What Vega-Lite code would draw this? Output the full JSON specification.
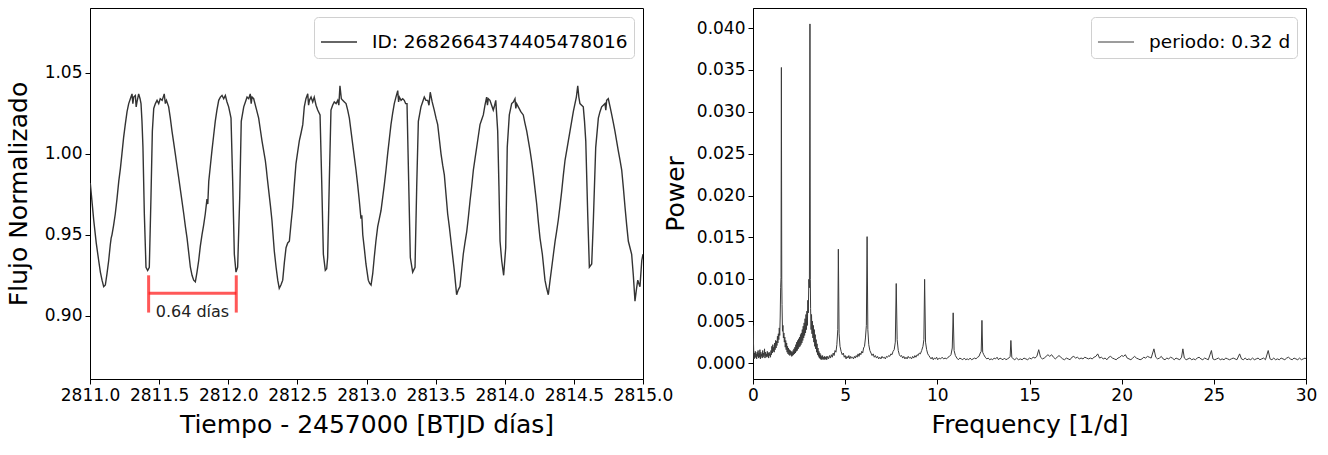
{
"$schema": "https://vega.github.io/schema/vega-lite/v6.json",
"padding": {"left": 5, "top": 7, "right": 13, "bottom": 5},
"background": "white",
"spacing": 110,
"bounds": "flush",
"resolve": {"scale": {"color": "independent"}, "legend": {"color": "independent"}},
"config": {
  "font": "DejaVu Sans",
  "view": {"stroke": "black", "strokeWidth": 1},
  "axis": {"grid": false, "domainColor": "black", "domainWidth": 1, "tickColor": "black", "tickSize": 5, "tickWidth": 1, "labelFontSize": 17, "labelColor": "black", "labelPadding": 3, "titleFontSize": 25, "titleFontWeight": "normal", "titleColor": "black", "labelFlush": false, "labelOverlap": false},
  "legend": {"title": null, "orient": "top-right", "offset": 9, "symbolType": "stroke", "labelFontSize": 18.5, "labelLimit": 500, "labelColor": "black", "strokeColor": "#d0d0d0", "fillColor": "white", "padding": 6, "cornerRadius": 4, "labelOffset": 14, "symbolSize": 1300}
},
"datasets": {
"lc": [
{"t":2811.002,"f":0.982},{"t":2811.015,"f":0.970},{"t":2811.027,"f":0.959},{"t":2811.045,"f":0.945},{"t":2811.063,"f":0.934},{"t":2811.075,"f":0.927},{"t":2811.087,"f":0.922},{"t":2811.099,"f":0.918},{"t":2811.111,"f":0.919},{"t":2811.123,"f":0.926},{"t":2811.135,"f":0.934},{"t":2811.147,"f":0.944},{"t":2811.153,"f":0.948},{"t":2811.159,"f":0.950},{"t":2811.171,"f":0.956},{"t":2811.183,"f":0.963},{"t":2811.195,"f":0.972},{"t":2811.208,"f":0.983},{"t":2811.220,"f":0.991},{"t":2811.231,"f":1.000},{"t":2811.243,"f":1.010},{"t":2811.255,"f":1.018},{"t":2811.268,"f":1.026},{"t":2811.280,"f":1.031},{"t":2811.292,"f":1.034},{"t":2811.304,"f":1.037},{"t":2811.310,"f":1.031},{"t":2811.316,"f":1.035},{"t":2811.328,"f":1.036},{"t":2811.334,"f":1.029},{"t":2811.340,"f":1.032},{"t":2811.352,"f":1.037},{"t":2811.362,"f":1.034},{"t":2811.369,"f":1.031},{"t":2811.376,"f":1.020},{"t":2811.383,"f":1.004},{"t":2811.393,"f":0.963},{"t":2811.405,"f":0.930},{"t":2811.417,"f":0.928},{"t":2811.429,"f":0.930},{"t":2811.441,"f":0.973},{"t":2811.451,"f":1.014},{"t":2811.461,"f":1.028},{"t":2811.473,"f":1.031},{"t":2811.485,"f":1.033},{"t":2811.497,"f":1.031},{"t":2811.508,"f":1.034},{"t":2811.522,"f":1.033},{"t":2811.537,"f":1.037},{"t":2811.545,"f":1.031},{"t":2811.553,"f":1.033},{"t":2811.569,"f":1.029},{"t":2811.581,"f":1.022},{"t":2811.593,"f":1.014},{"t":2811.605,"f":1.007},{"t":2811.617,"f":1.000},{"t":2811.630,"f":0.992},{"t":2811.642,"f":0.985},{"t":2811.660,"f":0.974},{"t":2811.678,"f":0.963},{"t":2811.690,"f":0.955},{"t":2811.702,"f":0.948},{"t":2811.714,"f":0.939},{"t":2811.726,"f":0.930},{"t":2811.738,"f":0.925},{"t":2811.750,"f":0.922},{"t":2811.762,"f":0.921},{"t":2811.774,"f":0.927},{"t":2811.786,"f":0.934},{"t":2811.798,"f":0.943},{"t":2811.810,"f":0.950},{"t":2811.822,"f":0.956},{"t":2811.834,"f":0.963},{"t":2811.846,"f":0.972},{"t":2811.852,"f":0.969},{"t":2811.859,"f":0.983},{"t":2811.870,"f":0.992},{"t":2811.882,"f":1.002},{"t":2811.894,"f":1.011},{"t":2811.906,"f":1.020},{"t":2811.918,"f":1.027},{"t":2811.931,"f":1.033},{"t":2811.943,"f":1.035},{"t":2811.955,"f":1.036},{"t":2811.967,"f":1.034},{"t":2811.979,"f":1.036},{"t":2811.991,"f":1.032},{"t":2812.003,"f":1.029},{"t":2812.013,"f":1.025},{"t":2812.020,"f":1.022},{"t":2812.032,"f":0.983},{"t":2812.044,"f":0.938},{"t":2812.056,"f":0.927},{"t":2812.068,"f":0.930},{"t":2812.083,"f":0.973},{"t":2812.094,"f":1.020},{"t":2812.112,"f":1.029},{"t":2812.124,"f":1.032},{"t":2812.136,"f":1.035},{"t":2812.148,"f":1.034},{"t":2812.159,"f":1.037},{"t":2812.166,"f":1.031},{"t":2812.172,"f":1.035},{"t":2812.184,"f":1.034},{"t":2812.202,"f":1.028},{"t":2812.220,"f":1.022},{"t":2812.232,"f":1.015},{"t":2812.244,"f":1.008},{"t":2812.256,"f":1.002},{"t":2812.268,"f":0.996},{"t":2812.275,"f":0.991},{"t":2812.281,"f":0.986},{"t":2812.293,"f":0.977},{"t":2812.305,"f":0.968},{"t":2812.316,"f":0.959},{"t":2812.333,"f":0.940},{"t":2812.346,"f":0.930},{"t":2812.358,"f":0.922},{"t":2812.369,"f":0.917},{"t":2812.381,"f":0.919},{"t":2812.394,"f":0.922},{"t":2812.406,"f":0.933},{"t":2812.418,"f":0.942},{"t":2812.430,"f":0.945},{"t":2812.442,"f":0.946},{"t":2812.454,"f":0.957},{"t":2812.466,"f":0.967},{"t":2812.478,"f":0.981},{"t":2812.490,"f":0.994},{"t":2812.502,"f":1.001},{"t":2812.514,"f":1.008},{"t":2812.527,"f":1.013},{"t":2812.539,"f":1.018},{"t":2812.550,"f":1.029},{"t":2812.562,"f":1.034},{"t":2812.575,"f":1.037},{"t":2812.581,"f":1.030},{"t":2812.587,"f":1.033},{"t":2812.599,"f":1.035},{"t":2812.611,"f":1.032},{"t":2812.622,"f":1.035},{"t":2812.635,"f":1.030},{"t":2812.647,"f":1.027},{"t":2812.664,"f":1.024},{"t":2812.676,"f":0.983},{"t":2812.688,"f":0.938},{"t":2812.702,"f":0.928},{"t":2812.712,"f":0.929},{"t":2812.719,"f":0.936},{"t":2812.731,"f":0.983},{"t":2812.743,"f":1.027},{"t":2812.755,"f":1.030},{"t":2812.767,"f":1.032},{"t":2812.780,"f":1.031},{"t":2812.792,"f":1.033},{"t":2812.800,"f":1.030},{"t":2812.808,"f":1.042},{"t":2812.818,"f":1.034},{"t":2812.828,"f":1.033},{"t":2812.840,"f":1.032},{"t":2812.852,"f":1.031},{"t":2812.864,"f":1.027},{"t":2812.876,"f":1.022},{"t":2812.888,"f":1.014},{"t":2812.900,"f":1.006},{"t":2812.912,"f":0.998},{"t":2812.924,"f":0.990},{"t":2812.936,"f":0.981},{"t":2812.948,"f":0.971},{"t":2812.960,"f":0.960},{"t":2812.966,"f":0.962},{"t":2812.973,"f":0.950},{"t":2812.985,"f":0.941},{"t":2812.996,"f":0.932},{"t":2813.013,"f":0.922},{"t":2813.023,"f":0.920},{"t":2813.033,"f":0.919},{"t":2813.045,"f":0.926},{"t":2813.056,"f":0.936},{"t":2813.068,"f":0.946},{"t":2813.081,"f":0.955},{"t":2813.093,"f":0.960},{"t":2813.105,"f":0.965},{"t":2813.117,"f":0.973},{"t":2813.129,"f":0.981},{"t":2813.141,"f":0.990},{"t":2813.153,"f":1.000},{"t":2813.165,"f":1.009},{"t":2813.177,"f":1.018},{"t":2813.189,"f":1.025},{"t":2813.201,"f":1.031},{"t":2813.213,"f":1.035},{"t":2813.226,"f":1.039},{"t":2813.232,"f":1.032},{"t":2813.238,"f":1.035},{"t":2813.250,"f":1.033},{"t":2813.262,"f":1.034},{"t":2813.273,"f":1.033},{"t":2813.283,"f":1.031},{"t":2813.293,"f":1.031},{"t":2813.305,"f":0.983},{"t":2813.317,"f":0.936},{"t":2813.334,"f":0.927},{"t":2813.351,"f":0.930},{"t":2813.363,"f":0.979},{"t":2813.375,"f":1.020},{"t":2813.394,"f":1.029},{"t":2813.406,"f":1.032},{"t":2813.418,"f":1.035},{"t":2813.430,"f":1.033},{"t":2813.443,"f":1.033},{"t":2813.452,"f":1.030},{"t":2813.461,"f":1.038},{"t":2813.475,"f":1.032},{"t":2813.490,"f":1.027},{"t":2813.503,"f":1.022},{"t":2813.515,"f":1.018},{"t":2813.527,"f":1.009},{"t":2813.539,"f":1.000},{"t":2813.551,"f":0.993},{"t":2813.563,"f":0.987},{"t":2813.575,"f":0.975},{"t":2813.587,"f":0.963},{"t":2813.599,"f":0.955},{"t":2813.611,"f":0.946},{"t":2813.623,"f":0.937},{"t":2813.635,"f":0.928},{"t":2813.644,"f":0.920},{"t":2813.652,"f":0.913},{"t":2813.664,"f":0.916},{"t":2813.676,"f":0.918},{"t":2813.688,"f":0.928},{"t":2813.700,"f":0.938},{"t":2813.712,"f":0.945},{"t":2813.725,"f":0.952},{"t":2813.737,"f":0.961},{"t":2813.749,"f":0.971},{"t":2813.761,"f":0.980},{"t":2813.773,"f":0.990},{"t":2813.785,"f":0.997},{"t":2813.797,"f":1.004},{"t":2813.809,"f":1.011},{"t":2813.821,"f":1.018},{"t":2813.833,"f":1.021},{"t":2813.845,"f":1.024},{"t":2813.857,"f":1.030},{"t":2813.869,"f":1.035},{"t":2813.875,"f":1.030},{"t":2813.881,"f":1.034},{"t":2813.893,"f":1.033},{"t":2813.905,"f":1.030},{"t":2813.917,"f":1.027},{"t":2813.927,"f":1.030},{"t":2813.935,"f":1.033},{"t":2813.949,"f":1.014},{"t":2813.958,"f":0.980},{"t":2813.966,"f":0.946},{"t":2813.978,"f":0.934},{"t":2813.992,"f":0.925},{"t":2814.007,"f":0.942},{"t":2814.018,"f":1.004},{"t":2814.033,"f":1.024},{"t":2814.050,"f":1.031},{"t":2814.062,"f":1.032},{"t":2814.074,"f":1.034},{"t":2814.080,"f":1.028},{"t":2814.086,"f":1.031},{"t":2814.098,"f":1.029},{"t":2814.116,"f":1.026},{"t":2814.134,"f":1.024},{"t":2814.146,"f":1.019},{"t":2814.159,"f":1.014},{"t":2814.171,"f":1.008},{"t":2814.183,"f":1.002},{"t":2814.195,"f":0.995},{"t":2814.207,"f":0.987},{"t":2814.219,"f":0.978},{"t":2814.231,"f":0.969},{"t":2814.243,"f":0.958},{"t":2814.255,"f":0.948},{"t":2814.272,"f":0.938},{"t":2814.291,"f":0.922},{"t":2814.303,"f":0.917},{"t":2814.315,"f":0.913},{"t":2814.328,"f":0.922},{"t":2814.340,"f":0.930},{"t":2814.352,"f":0.938},{"t":2814.364,"f":0.946},{"t":2814.375,"f":0.952},{"t":2814.387,"f":0.959},{"t":2814.400,"f":0.968},{"t":2814.412,"f":0.977},{"t":2814.424,"f":0.987},{"t":2814.436,"f":0.996},{"t":2814.448,"f":1.002},{"t":2814.460,"f":1.008},{"t":2814.472,"f":1.014},{"t":2814.484,"f":1.020},{"t":2814.496,"f":1.026},{"t":2814.508,"f":1.031},{"t":2814.518,"f":1.035},{"t":2814.528,"f":1.042},{"t":2814.536,"f":1.035},{"t":2814.544,"f":1.031},{"t":2814.556,"f":1.030},{"t":2814.568,"f":1.029},{"t":2814.577,"f":1.020},{"t":2814.586,"f":1.008},{"t":2814.600,"f":0.963},{"t":2814.612,"f":0.930},{"t":2814.629,"f":0.932},{"t":2814.641,"f":0.959},{"t":2814.658,"f":1.004},{"t":2814.677,"f":1.022},{"t":2814.689,"f":1.026},{"t":2814.701,"f":1.029},{"t":2814.713,"f":1.030},{"t":2814.725,"f":1.031},{"t":2814.731,"f":1.027},{"t":2814.737,"f":1.033},{"t":2814.749,"f":1.034},{"t":2814.762,"f":1.029},{"t":2814.774,"f":1.024},{"t":2814.786,"f":1.019},{"t":2814.797,"f":1.014},{"t":2814.809,"f":1.008},{"t":2814.821,"f":1.002},{"t":2814.834,"f":0.996},{"t":2814.846,"f":0.990},{"t":2814.858,"f":0.979},{"t":2814.870,"f":0.967},{"t":2814.882,"f":0.956},{"t":2814.894,"f":0.946},{"t":2814.906,"f":0.942},{"t":2814.918,"f":0.938},{"t":2814.930,"f":0.925},{"t":2814.942,"f":0.909},{"t":2814.952,"f":0.916},{"t":2814.962,"f":0.922},{"t":2814.970,"f":0.920},{"t":2814.978,"f":0.918},{"t":2814.991,"f":0.934},{"t":2815.000,"f":0.938}
],
"pg": [
{"fr":0.00,"p":0.0045},{"fr":0.02,"p":0.0030},{"fr":0.04,"p":0.0012},{"fr":0.06,"p":0.0005},{"fr":0.08,"p":0.0012},{"fr":0.10,"p":0.0006},{"fr":0.125,"p":0.0014},{"fr":0.15,"p":0.0007},{"fr":0.175,"p":0.0011},{"fr":0.20,"p":0.0005},{"fr":0.225,"p":0.0013},{"fr":0.25,"p":0.0008},{"fr":0.275,"p":0.0015},{"fr":0.30,"p":0.0006},{"fr":0.325,"p":0.0012},{"fr":0.35,"p":0.0007},{"fr":0.375,"p":0.0016},{"fr":0.40,"p":0.0005},{"fr":0.425,"p":0.0013},{"fr":0.45,"p":0.0008},{"fr":0.475,"p":0.0011},{"fr":0.50,"p":0.0006},{"fr":0.525,"p":0.0015},{"fr":0.55,"p":0.0007},{"fr":0.575,"p":0.0012},{"fr":0.60,"p":0.0009},{"fr":0.625,"p":0.0017},{"fr":0.65,"p":0.0006},{"fr":0.675,"p":0.0013},{"fr":0.70,"p":0.0008},{"fr":0.725,"p":0.0011},{"fr":0.75,"p":0.0007},{"fr":0.775,"p":0.0014},{"fr":0.80,"p":0.0008},{"fr":0.825,"p":0.0012},{"fr":0.85,"p":0.0006},{"fr":0.875,"p":0.0013},{"fr":0.90,"p":0.0009},{"fr":0.925,"p":0.0011},{"fr":0.95,"p":0.0007},{"fr":0.975,"p":0.0015},{"fr":1.00,"p":0.0010},{"fr":1.025,"p":0.0020},{"fr":1.05,"p":0.0012},{"fr":1.075,"p":0.0022},{"fr":1.10,"p":0.0014},{"fr":1.125,"p":0.0019},{"fr":1.15,"p":0.0013},{"fr":1.175,"p":0.0024},{"fr":1.20,"p":0.0016},{"fr":1.225,"p":0.0027},{"fr":1.25,"p":0.0018},{"fr":1.275,"p":0.0026},{"fr":1.30,"p":0.0021},{"fr":1.325,"p":0.0032},{"fr":1.35,"p":0.0024},{"fr":1.375,"p":0.0035},{"fr":1.40,"p":0.0028},{"fr":1.425,"p":0.0042},{"fr":1.45,"p":0.0033},{"fr":1.475,"p":0.0055},{"fr":1.50,"p":0.0090},{"fr":1.52,"p":0.0102},{"fr":1.54,"p":0.0353},{"fr":1.56,"p":0.0100},{"fr":1.575,"p":0.0070},{"fr":1.60,"p":0.0038},{"fr":1.625,"p":0.0045},{"fr":1.65,"p":0.0030},{"fr":1.675,"p":0.0036},{"fr":1.70,"p":0.0025},{"fr":1.725,"p":0.0031},{"fr":1.75,"p":0.0019},{"fr":1.775,"p":0.0027},{"fr":1.80,"p":0.0016},{"fr":1.825,"p":0.0024},{"fr":1.85,"p":0.0013},{"fr":1.875,"p":0.0020},{"fr":1.90,"p":0.0011},{"fr":1.925,"p":0.0018},{"fr":1.95,"p":0.0010},{"fr":1.975,"p":0.0016},{"fr":2.00,"p":0.0009},{"fr":2.025,"p":0.0015},{"fr":2.05,"p":0.0010},{"fr":2.075,"p":0.0014},{"fr":2.10,"p":0.0008},{"fr":2.125,"p":0.0013},{"fr":2.15,"p":0.0009},{"fr":2.175,"p":0.0015},{"fr":2.20,"p":0.0010},{"fr":2.225,"p":0.0017},{"fr":2.25,"p":0.0011},{"fr":2.275,"p":0.0019},{"fr":2.30,"p":0.0012},{"fr":2.325,"p":0.0022},{"fr":2.35,"p":0.0014},{"fr":2.375,"p":0.0025},{"fr":2.40,"p":0.0015},{"fr":2.425,"p":0.0027},{"fr":2.45,"p":0.0017},{"fr":2.475,"p":0.0029},{"fr":2.50,"p":0.0019},{"fr":2.525,"p":0.0031},{"fr":2.55,"p":0.0020},{"fr":2.575,"p":0.0034},{"fr":2.60,"p":0.0022},{"fr":2.625,"p":0.0036},{"fr":2.65,"p":0.0024},{"fr":2.675,"p":0.0040},{"fr":2.70,"p":0.0027},{"fr":2.725,"p":0.0044},{"fr":2.75,"p":0.0030},{"fr":2.775,"p":0.0048},{"fr":2.80,"p":0.0033},{"fr":2.825,"p":0.0053},{"fr":2.85,"p":0.0036},{"fr":2.875,"p":0.0058},{"fr":2.90,"p":0.0040},{"fr":2.925,"p":0.0062},{"fr":2.95,"p":0.0045},{"fr":2.975,"p":0.0075},{"fr":3.00,"p":0.0060},{"fr":3.03,"p":0.0100},{"fr":3.06,"p":0.0090},{"fr":3.09,"p":0.0405},{"fr":3.11,"p":0.0100},{"fr":3.125,"p":0.0065},{"fr":3.15,"p":0.0040},{"fr":3.175,"p":0.0058},{"fr":3.20,"p":0.0035},{"fr":3.225,"p":0.0050},{"fr":3.25,"p":0.0030},{"fr":3.275,"p":0.0045},{"fr":3.30,"p":0.0025},{"fr":3.325,"p":0.0040},{"fr":3.35,"p":0.0020},{"fr":3.375,"p":0.0034},{"fr":3.40,"p":0.0017},{"fr":3.425,"p":0.0028},{"fr":3.45,"p":0.0013},{"fr":3.475,"p":0.0023},{"fr":3.50,"p":0.0010},{"fr":3.525,"p":0.0018},{"fr":3.55,"p":0.0008},{"fr":3.575,"p":0.0014},{"fr":3.60,"p":0.0006},{"fr":3.625,"p":0.0012},{"fr":3.65,"p":0.0005},{"fr":3.675,"p":0.0010},{"fr":3.70,"p":0.0004},{"fr":3.725,"p":0.0008},{"fr":3.75,"p":0.0005},{"fr":3.775,"p":0.0009},{"fr":3.80,"p":0.0004},{"fr":3.825,"p":0.0007},{"fr":3.85,"p":0.0005},{"fr":3.875,"p":0.0008},{"fr":3.90,"p":0.0004},{"fr":3.925,"p":0.0007},{"fr":3.95,"p":0.0005},{"fr":3.975,"p":0.0008},{"fr":4.00,"p":0.0004},
{"fr":4.05,"p":0.0008},{"fr":4.10,"p":0.0005},{"fr":4.15,"p":0.0009},{"fr":4.20,"p":0.0006},{"fr":4.25,"p":0.0010},{"fr":4.30,"p":0.0007},{"fr":4.35,"p":0.0012},{"fr":4.40,"p":0.0009},{"fr":4.45,"p":0.0015},{"fr":4.50,"p":0.0013},{"fr":4.55,"p":0.0022},{"fr":4.60,"p":0.0040},{"fr":4.63,"p":0.0136},{"fr":4.67,"p":0.0035},{"fr":4.72,"p":0.0020},{"fr":4.78,"p":0.0014},{"fr":4.84,"p":0.0010},{"fr":4.90,"p":0.0012},{"fr":4.95,"p":0.0007},{"fr":5.00,"p":0.0009},{"fr":5.05,"p":0.0005},{"fr":5.10,"p":0.0008},{"fr":5.15,"p":0.0006},{"fr":5.20,"p":0.0009},{"fr":5.25,"p":0.0005},{"fr":5.30,"p":0.0008},{"fr":5.35,"p":0.0006},{"fr":5.40,"p":0.0007},{"fr":5.45,"p":0.0005},{"fr":5.50,"p":0.0008},{"fr":5.55,"p":0.0006},{"fr":5.60,"p":0.0009},{"fr":5.65,"p":0.0007},{"fr":5.70,"p":0.0011},{"fr":5.75,"p":0.0008},{"fr":5.80,"p":0.0012},{"fr":5.85,"p":0.0010},{"fr":5.90,"p":0.0014},{"fr":5.95,"p":0.0012},{"fr":6.00,"p":0.0018},{"fr":6.05,"p":0.0020},{"fr":6.10,"p":0.0030},{"fr":6.15,"p":0.0045},{"fr":6.19,"p":0.0151},{"fr":6.23,"p":0.0040},{"fr":6.28,"p":0.0022},{"fr":6.34,"p":0.0015},{"fr":6.40,"p":0.0012},{"fr":6.46,"p":0.0009},{"fr":6.52,"p":0.0011},{"fr":6.58,"p":0.0007},{"fr":6.64,"p":0.0009},{"fr":6.70,"p":0.0006},{"fr":6.76,"p":0.0008},{"fr":6.82,"p":0.0005},{"fr":6.88,"p":0.0007},{"fr":6.94,"p":0.0005},{"fr":7.00,"p":0.0008},{"fr":7.06,"p":0.0006},{"fr":7.12,"p":0.0007},{"fr":7.18,"p":0.0005},{"fr":7.24,"p":0.0008},{"fr":7.30,"p":0.0007},{"fr":7.36,"p":0.0009},{"fr":7.42,"p":0.0008},{"fr":7.48,"p":0.0011},{"fr":7.54,"p":0.0010},{"fr":7.60,"p":0.0014},{"fr":7.66,"p":0.0016},{"fr":7.72,"p":0.0025},{"fr":7.77,"p":0.0095},{"fr":7.82,"p":0.0028},{"fr":7.88,"p":0.0015},{"fr":7.94,"p":0.0010},{"fr":8.00,"p":0.0008},{"fr":8.06,"p":0.0009},{"fr":8.12,"p":0.0006},{"fr":8.18,"p":0.0008},{"fr":8.24,"p":0.0005},{"fr":8.30,"p":0.0007},{"fr":8.36,"p":0.0005},{"fr":8.42,"p":0.0008},{"fr":8.48,"p":0.0006},{"fr":8.54,"p":0.0007},{"fr":8.60,"p":0.0005},{"fr":8.66,"p":0.0008},{"fr":8.72,"p":0.0006},{"fr":8.78,"p":0.0009},{"fr":8.84,"p":0.0007},{"fr":8.90,"p":0.0010},{"fr":8.96,"p":0.0009},{"fr":9.02,"p":0.0012},{"fr":9.08,"p":0.0011},{"fr":9.15,"p":0.0015},{"fr":9.22,"p":0.0020},{"fr":9.27,"p":0.0028},{"fr":9.31,"p":0.0100},{"fr":9.36,"p":0.0025},{"fr":9.42,"p":0.0016},{"fr":9.48,"p":0.0011},{"fr":9.54,"p":0.0009},{"fr":9.60,"p":0.0007},{"fr":9.66,"p":0.0005},{"fr":9.72,"p":0.0007},{"fr":9.78,"p":0.0004},{"fr":9.84,"p":0.0006},{"fr":9.90,"p":0.0005},{"fr":9.96,"p":0.0007},{"fr":10.02,"p":0.0004},{"fr":10.10,"p":0.0006},{"fr":10.18,"p":0.0005},{"fr":10.26,"p":0.0007},{"fr":10.34,"p":0.0005},{"fr":10.42,"p":0.0006},{"fr":10.50,"p":0.0005},{"fr":10.58,"p":0.0007},{"fr":10.66,"p":0.0008},{"fr":10.74,"p":0.0010},{"fr":10.81,"p":0.0018},{"fr":10.86,"p":0.0060},{"fr":10.91,"p":0.0015},{"fr":10.98,"p":0.0009},{"fr":11.06,"p":0.0006},{"fr":11.14,"p":0.0004},{"fr":11.22,"p":0.0006},{"fr":11.30,"p":0.0005},{"fr":11.38,"p":0.0004},{"fr":11.46,"p":0.0006},{"fr":11.54,"p":0.0004},{"fr":11.62,"p":0.0005},{"fr":11.70,"p":0.0004},{"fr":11.78,"p":0.0006},{"fr":11.86,"p":0.0004},{"fr":11.94,"p":0.0005},{"fr":12.02,"p":0.0006},{"fr":12.10,"p":0.0005},{"fr":12.18,"p":0.0007},{"fr":12.26,"p":0.0008},{"fr":12.33,"p":0.0012},{"fr":12.38,"p":0.0014},{"fr":12.42,"p":0.0051},{"fr":12.46,"p":0.0013},{"fr":12.52,"p":0.0010},{"fr":12.60,"p":0.0007},{"fr":12.68,"p":0.0005},{"fr":12.76,"p":0.0006},{"fr":12.84,"p":0.0004},{"fr":12.92,"p":0.0005},{"fr":13.00,"p":0.0004},{"fr":13.08,"p":0.0006},{"fr":13.16,"p":0.0005},{"fr":13.24,"p":0.0007},{"fr":13.32,"p":0.0004},{"fr":13.40,"p":0.0006},{"fr":13.48,"p":0.0005},{"fr":13.56,"p":0.0004},{"fr":13.64,"p":0.0006},{"fr":13.72,"p":0.0004},{"fr":13.80,"p":0.0005},{"fr":13.88,"p":0.0006},{"fr":13.95,"p":0.0008},{"fr":13.99,"p":0.0027},{"fr":14.04,"p":0.0007},{"fr":14.12,"p":0.0005},{"fr":14.20,"p":0.0004},{"fr":14.30,"p":0.0006},{"fr":14.40,"p":0.0004},{"fr":14.50,"p":0.0005},{"fr":14.60,"p":0.0004},{"fr":14.70,"p":0.0006},{"fr":14.80,"p":0.0005},{"fr":14.90,"p":0.0004},{"fr":15.00,"p":0.0006},{"fr":15.10,"p":0.0005},{"fr":15.20,"p":0.0007},{"fr":15.30,"p":0.0006},{"fr":15.40,"p":0.0008},{"fr":15.50,"p":0.0016},{"fr":15.60,"p":0.0007},{"fr":15.70,"p":0.0005},{"fr":15.80,"p":0.0006},{"fr":15.90,"p":0.0008},{"fr":16.00,"p":0.0010},{"fr":16.10,"p":0.0008},{"fr":16.20,"p":0.0010},{"fr":16.30,"p":0.0007},{"fr":16.40,"p":0.0005},{"fr":16.50,"p":0.0007},{"fr":16.60,"p":0.0009},{"fr":16.70,"p":0.0007},{"fr":16.80,"p":0.0005},{"fr":16.90,"p":0.0004},{"fr":17.00,"p":0.0006},{"fr":17.10,"p":0.0005},{"fr":17.20,"p":0.0004},{"fr":17.30,"p":0.0007},{"fr":17.40,"p":0.0008},{"fr":17.50,"p":0.0006},{"fr":17.60,"p":0.0007},{"fr":17.70,"p":0.0005},{"fr":17.80,"p":0.0006},{"fr":17.90,"p":0.0005},{"fr":18.00,"p":0.0007},{"fr":18.10,"p":0.0006},{"fr":18.20,"p":0.0005},{"fr":18.30,"p":0.0006},{"fr":18.40,"p":0.0005},{"fr":18.50,"p":0.0007},{"fr":18.60,"p":0.0008},{"fr":18.70,"p":0.0011},{"fr":18.80,"p":0.0006},{"fr":18.90,"p":0.0007},{"fr":19.00,"p":0.0005},{"fr":19.10,"p":0.0006},{"fr":19.20,"p":0.0004},{"fr":19.30,"p":0.0007},{"fr":19.40,"p":0.0008},{"fr":19.50,"p":0.0006},{"fr":19.60,"p":0.0005},{"fr":19.70,"p":0.0004},{"fr":19.80,"p":0.0006},{"fr":19.90,"p":0.0007},{"fr":20.00,"p":0.0009},{"fr":20.10,"p":0.0008},{"fr":20.20,"p":0.0010},{"fr":20.30,"p":0.0006},{"fr":20.40,"p":0.0005},{"fr":20.50,"p":0.0004},{"fr":20.60,"p":0.0006},{"fr":20.70,"p":0.0008},{"fr":20.80,"p":0.0006},{"fr":20.90,"p":0.0005},{"fr":21.00,"p":0.0004},{"fr":21.10,"p":0.0005},{"fr":21.20,"p":0.0007},{"fr":21.30,"p":0.0006},{"fr":21.40,"p":0.0008},{"fr":21.50,"p":0.0007},{"fr":21.60,"p":0.0006},{"fr":21.75,"p":0.0017},{"fr":21.85,"p":0.0007},{"fr":21.95,"p":0.0005},{"fr":22.05,"p":0.0006},{"fr":22.15,"p":0.0008},{"fr":22.25,"p":0.0005},{"fr":22.35,"p":0.0004},{"fr":22.45,"p":0.0006},{"fr":22.55,"p":0.0005},{"fr":22.65,"p":0.0007},{"fr":22.75,"p":0.0006},{"fr":22.85,"p":0.0004},{"fr":22.95,"p":0.0006},{"fr":23.05,"p":0.0005},{"fr":23.15,"p":0.0004},{"fr":23.25,"p":0.0007},{"fr":23.32,"p":0.0017},{"fr":23.40,"p":0.0006},{"fr":23.50,"p":0.0004},{"fr":23.60,"p":0.0005},{"fr":23.70,"p":0.0006},{"fr":23.80,"p":0.0004},{"fr":23.90,"p":0.0005},{"fr":24.00,"p":0.0004},{"fr":24.10,"p":0.0006},{"fr":24.20,"p":0.0007},{"fr":24.30,"p":0.0005},{"fr":24.40,"p":0.0004},{"fr":24.50,"p":0.0006},{"fr":24.60,"p":0.0005},{"fr":24.70,"p":0.0004},{"fr":24.87,"p":0.0015},{"fr":24.95,"p":0.0005},{"fr":25.05,"p":0.0004},{"fr":25.15,"p":0.0005},{"fr":25.25,"p":0.0006},{"fr":25.35,"p":0.0004},{"fr":25.45,"p":0.0005},{"fr":25.55,"p":0.0004},{"fr":25.65,"p":0.0006},{"fr":25.75,"p":0.0005},{"fr":25.85,"p":0.0004},{"fr":25.95,"p":0.0005},{"fr":26.05,"p":0.0006},{"fr":26.15,"p":0.0005},{"fr":26.25,"p":0.0004},{"fr":26.40,"p":0.0011},{"fr":26.50,"p":0.0005},{"fr":26.60,"p":0.0004},{"fr":26.70,"p":0.0006},{"fr":26.80,"p":0.0004},{"fr":26.90,"p":0.0005},{"fr":27.00,"p":0.0004},{"fr":27.10,"p":0.0006},{"fr":27.20,"p":0.0004},{"fr":27.30,"p":0.0005},{"fr":27.40,"p":0.0006},{"fr":27.50,"p":0.0004},{"fr":27.60,"p":0.0005},{"fr":27.70,"p":0.0006},{"fr":27.80,"p":0.0004},{"fr":27.95,"p":0.0015},{"fr":28.05,"p":0.0005},{"fr":28.15,"p":0.0004},{"fr":28.25,"p":0.0006},{"fr":28.35,"p":0.0004},{"fr":28.45,"p":0.0005},{"fr":28.55,"p":0.0004},{"fr":28.65,"p":0.0006},{"fr":28.75,"p":0.0005},{"fr":28.85,"p":0.0004},{"fr":28.95,"p":0.0006},{"fr":29.05,"p":0.0007},{"fr":29.15,"p":0.0005},{"fr":29.25,"p":0.0004},{"fr":29.35,"p":0.0006},{"fr":29.45,"p":0.0005},{"fr":29.55,"p":0.0004},{"fr":29.65,"p":0.0006},{"fr":29.75,"p":0.0004},{"fr":29.85,"p":0.0005},{"fr":29.95,"p":0.0006},{"fr":30.00,"p":0.0005}
],
"hbar": [{"t":2811.424,"t2":2812.058,"f":0.914}],
"vbar": [{"t":2811.424,"f":0.925,"f2":0.902},{"t":2812.058,"f":0.925,"f2":0.902}],
"lbl": [{"t":2811.741,"f":0.9025,"txt":"0.64 días"}]
},
"hconcat": [
{
  "width": 553, "height": 371,
  "layer": [
    {
      "data": {"name": "lc"},
      "mark": {"type": "line", "strokeWidth": 1.4, "clip": true},
      "encoding": {
        "x": {"field": "t", "type": "quantitative", "scale": {"domain": [2811, 2815], "nice": false, "zero": false}, "axis": {"values": [2811, 2811.5, 2812, 2812.5, 2813, 2813.5, 2814, 2814.5, 2815], "format": ".1f", "title": "Tiempo - 2457000 [BTJD días]", "titlePadding": 9}},
        "y": {"field": "f", "type": "quantitative", "scale": {"domain": [0.861, 1.09], "nice": false, "zero": false}, "axis": {"values": [0.9, 0.95, 1.0, 1.05], "format": ".2f", "title": "Flujo Normalizado", "titlePadding": 13}},
        "color": {"datum": "ID: 2682664374405478016", "type": "nominal", "scale": {"range": ["#333333"]}, "legend": {"symbolStrokeWidth": 1.5}}
      }
    },
    {
      "data": {"name": "hbar"},
      "mark": {"type": "rule", "color": "#ff2020", "opacity": 0.75, "strokeWidth": 3},
      "encoding": {"x": {"field": "t", "type": "quantitative"}, "x2": {"field": "t2"}, "y": {"field": "f", "type": "quantitative"}}
    },
    {
      "data": {"name": "vbar"},
      "mark": {"type": "rule", "color": "#ff2020", "opacity": 0.75, "strokeWidth": 3},
      "encoding": {"x": {"field": "t", "type": "quantitative"}, "y": {"field": "f", "type": "quantitative"}, "y2": {"field": "f2"}}
    },
    {
      "data": {"name": "lbl"},
      "mark": {"type": "text", "fontSize": 16, "color": "#222222", "baseline": "middle", "align": "center"},
      "encoding": {"x": {"field": "t", "type": "quantitative"}, "y": {"field": "f", "type": "quantitative"}, "text": {"field": "txt"}}
    }
  ]
},
{
  "width": 553, "height": 371,
  "data": {"name": "pg"},
  "mark": {"type": "line", "strokeWidth": 1, "clip": true},
  "encoding": {
    "x": {"field": "fr", "type": "quantitative", "scale": {"domain": [0, 30], "nice": false, "zero": false}, "axis": {"values": [0, 5, 10, 15, 20, 25, 30], "format": "d", "title": "Frequency [1/d]", "titlePadding": 9}},
    "y": {"field": "p", "type": "quantitative", "scale": {"domain": [-0.0019, 0.0424], "nice": false, "zero": false}, "axis": {"values": [0, 0.005, 0.01, 0.015, 0.02, 0.025, 0.03, 0.035, 0.04], "format": ".3f", "title": "Power", "titlePadding": 8}},
    "color": {"datum": "periodo: 0.32 d", "type": "nominal", "scale": {"range": ["#3a3a3a"]}, "legend": {"symbolStrokeWidth": 1}}
  }
}
]
}
